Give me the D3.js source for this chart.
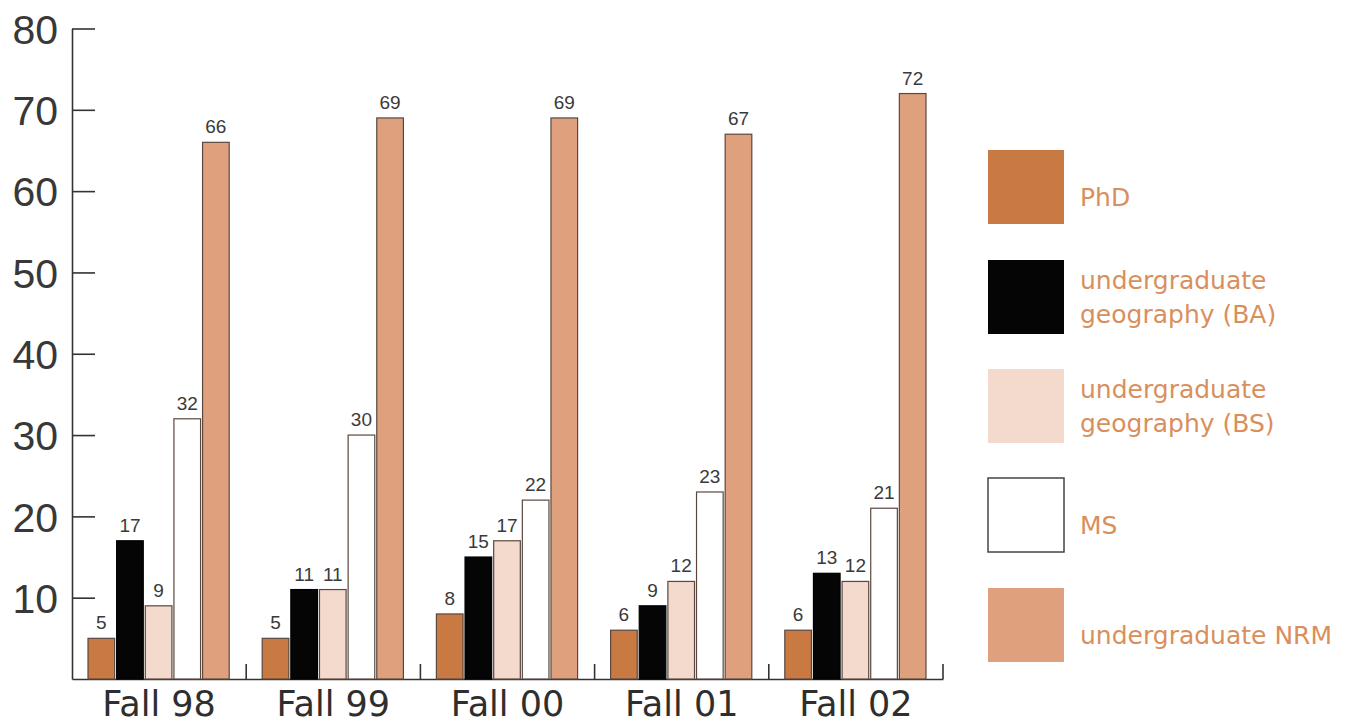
<!DOCTYPE html>
<html>
<head>
<meta charset="utf-8">
<script src="https://cdn.jsdelivr.net/npm/d3@7"></script>
<style>
html,body{margin:0;padding:0;background:#fff;}
svg{display:block;}
</style>
</head>
<body>
<svg id="chart" width="1349" height="726"></svg>
<script>
const categories = ["Fall 98", "Fall 99", "Fall 00", "Fall 01", "Fall 02"];
const seriesNames = ["PhD", "undergraduate geography (BA)", "undergraduate geography (BS)", "MS", "undergraduate NRM"];
const legendLines = [["PhD"], ["undergraduate", "geography (BA)"], ["undergraduate", "geography (BS)"], ["MS"], ["undergraduate NRM"]];
const phd = [5, 5, 8, 6, 6];
const ba  = [17, 11, 15, 9, 13];
const bs  = [9, 11, 17, 12, 12];
const ms  = [32, 30, 22, 23, 21];
const nrm = [66, 69, 69, 67, 72];
const yTicks = [10, 20, 30, 40, 50, 60, 70, 80];
const colors = ["#c97a42", "#050505", "#f3dacd", "#ffffff", "#dfa17d"];

const series = [phd, ba, bs, ms, nrm];
const svg = d3.select("#chart");

const y = d3.scaleLinear().domain([0, 80]).range([679, 28.5]);
const x0 = d3.scaleBand().domain(categories).range([72, 943]).padding(0);
const x1 = d3.scaleBand().domain(d3.range(series.length)).range([16, x0.bandwidth() - 17]).paddingInner(0.07);

// Y axis
const yAxis = d3.axisLeft(y).tickValues(yTicks).tickSizeInner(-23).tickSizeOuter(0).tickPadding(14);
const yg = svg.append("g").attr("transform", "translate(72,0)").call(yAxis);
yg.select(".domain").attr("stroke", "#333").attr("stroke-width", 1.6);
yg.selectAll(".tick line").attr("stroke", "#333").attr("stroke-width", 1.6);
yg.selectAll(".tick text").attr("fill", "#383838").style("font-family", "'Liberation Sans', sans-serif").style("font-size", "41px").attr("dy", "0.36em");

// X axis baseline with category separators
const xAxis = d3.axisBottom(x0).tickSize(0).tickFormat("");
const xg = svg.append("g").attr("transform", `translate(0,${y(0)})`).call(xAxis);
xg.select(".domain").attr("stroke", "#333").attr("stroke-width", 1.6);
const bounds = categories.map(c => x0(c) + x0.bandwidth());
svg.append("g").selectAll("line").data(bounds).join("line")
  .attr("x1", d => d).attr("x2", d => d)
  .attr("y1", y(0)).attr("y2", y(0) - 15)
  .attr("stroke", "#333").attr("stroke-width", 1.6);

// Category labels
svg.append("g").selectAll("text").data(categories).join("text")
  .attr("x", d => x0(d) + x0.bandwidth() / 2)
  .attr("y", 716)
  .attr("text-anchor", "middle")
  .attr("fill", "#2e2e2e")
  .style("font-family", "'DejaVu Sans', sans-serif")
  .style("font-size", "35px")
  .text(d => d);

// Bars
const groups = svg.append("g").selectAll("g").data(categories).join("g")
  .attr("transform", d => `translate(${x0(d)},0)`);

groups.each(function(cat, ci) {
  const g = d3.select(this);
  const vals = series.map((s, si) => ({ si, v: s[ci] }));
  g.selectAll("rect").data(vals).join("rect")
    .attr("x", d => x1(d.si))
    .attr("y", d => y(d.v))
    .attr("width", x1.bandwidth())
    .attr("height", d => y(0) - y(d.v))
    .attr("fill", d => colors[d.si])
    .attr("stroke", d => d.si === 1 ? "#000" : "#5a4840")
    .attr("stroke-width", 1.2);
  g.selectAll("text").data(vals).join("text")
    .attr("x", d => x1(d.si) + x1.bandwidth() / 2)
    .attr("y", d => y(d.v) - 9)
    .attr("text-anchor", "middle")
    .attr("fill", "#3a3a3a")
    .style("font-family", "'Liberation Sans', sans-serif")
    .style("font-size", "19px")
    .text(d => d.v);
});

// Legend
const legendTops = [150, 260, 369, 478, 588];
const leg = svg.append("g").selectAll("g").data(seriesNames).join("g")
  .attr("transform", (d, i) => `translate(988,${legendTops[i]})`);
leg.append("rect")
  .attr("width", 76).attr("height", 74)
  .attr("fill", (d, i) => colors[i])
  .attr("stroke", (d, i) => i === 3 ? "#444" : "none")
  .attr("stroke-width", 1.5);
leg.each(function(d, i) {
  const lines = legendLines[i];
  const g = d3.select(this);
  const startY = lines.length === 1 ? 56 : 29;
  lines.forEach((ln, li) => {
    g.append("text")
      .attr("x", 92)
      .attr("y", startY + li * 34)
      .attr("fill", "#d98f5c")
      .style("font-family", "'DejaVu Sans', sans-serif")
      .style("font-size", "25px")
      .text(ln);
  });
});
</script>
</body>
</html>
